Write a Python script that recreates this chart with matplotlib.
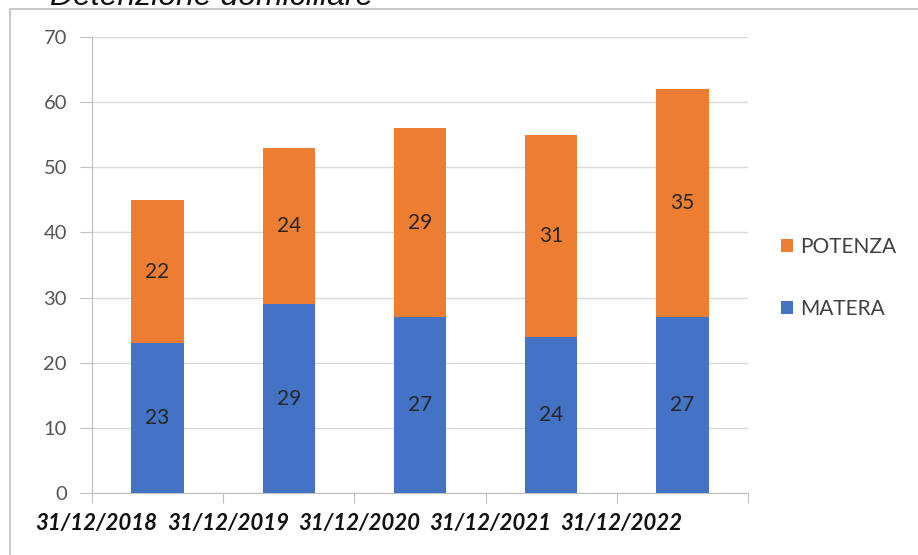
import numpy as np
import matplotlib.pyplot as plt
from matplotlib.patches import Rectangle

# Dati
date = ['31/12/2018', '31/12/2019', '31/12/2020', '31/12/2021', '31/12/2022']
matera = [23, 29, 27, 24, 27]
potenza = [22, 24, 29, 31, 35]
titolo = 'Detenzione domiciliare'

col_matera = '#4472C4'
col_potenza = '#ED7D31'

fig = plt.figure(figsize=(9.18, 5.55), dpi=100)
ax = fig.add_axes([92/918, 1 - 493/555, (748 - 92)/918, (493 - 37)/555])

# cornice grigia attorno al grafico
fig.patches.append(Rectangle((10/918, -0.1), 1.2, 1 - 9/555 + 0.1, transform=fig.transFigure,
                             fill=False, edgecolor='#c0c0c0', lw=1.2))

x = np.arange(len(date))
b1 = ax.bar(x, matera, width=0.4, color=col_matera, label='MATERA', zorder=3)
b2 = ax.bar(x, potenza, width=0.4, bottom=matera, color=col_potenza, label='POTENZA', zorder=3)

for bars, vals, bott in [(b1, matera, [0]*5), (b2, potenza, matera)]:
    for r, v, b in zip(bars, vals, bott):
        ax.text(r.get_x() + r.get_width()/2, b + v/2, str(v), ha='center', va='center',
                fontsize=15, color='#262626', family='Lato', zorder=4)

ax.set_xlim(-0.5, len(date) - 0.5)
ax.set_ylim(0, 70)
ax.set_yticks(np.arange(0, 71, 10))
ax.yaxis.grid(True, color='#d9d9d9', lw=1, zorder=0)
ax.set_axisbelow(True)
for s in ['top', 'right']:
    ax.spines[s].set_visible(False)
for s in ['left', 'bottom']:
    ax.spines[s].set_color('#bfbfbf')
ax.tick_params(axis='y', length=9, color='#bfbfbf', labelsize=14.5, labelcolor='#555555', pad=9)
for t in ax.get_yticklabels():
    t.set_family('Lato')

# tacche dell'asse x ai confini delle categorie
ax.set_xticks(np.arange(-0.5, len(date), 1.0))
ax.set_xticklabels([])
ax.tick_params(axis='x', length=7, color='#bfbfbf')
for xi, d in zip(x, date):
    ax.text(xi, -3.0, d, ha='right', va='top', fontsize=16, fontweight='bold',
            fontstyle='italic', family='Lato', color='#111111', clip_on=False)

h, l = ax.get_legend_handles_labels()
leg = fig.legend(h[::-1], l[::-1], loc='center left', bbox_to_anchor=(762/918, 1 - 278/555),
                 frameon=False, handlelength=0.6, handleheight=0.6,
                 handletextpad=0.35, labelspacing=2.0, prop={'family': 'Lato', 'size': 15})
for t in leg.get_texts():
    t.set_color('#404040')

fig.text(50/918, 1 - 5/555, titolo, ha='left', va='baseline', fontsize=23,
         fontstyle='italic', family='Liberation Sans', color='#111111')

fig.savefig('out.png', dpi=100)
